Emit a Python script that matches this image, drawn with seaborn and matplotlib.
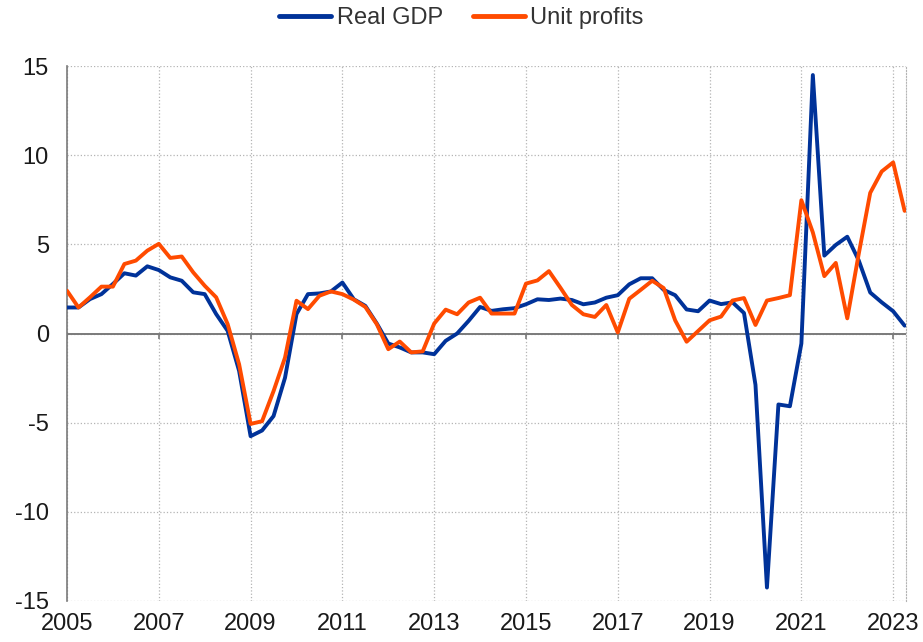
import numpy as np
import pandas as pd
import seaborn as sns
import matplotlib
matplotlib.use("Agg")
import matplotlib.pyplot as plt

# quarterly y-o-y growth, 2005Q1 - 2023Q2
quarters = pd.period_range("2005Q1", "2023Q2", freq="Q")

real_gdp = [
    1.46, 1.46, 1.93, 2.21,
    2.78, 3.38, 3.25, 3.77,
    3.56, 3.15, 2.96, 2.31,
    2.21, 1.09, 0.15, -2.10,
    -5.76, -5.44, -4.63, -2.48,
    1.09, 2.21, 2.25, 2.36,
    2.86, 1.92, 1.55, 0.56,
    -0.56, -0.78, -1.06, -1.06,
    -1.16, -0.41, 0.00, 0.71,
    1.49, 1.27, 1.36, 1.42,
    1.64, 1.92, 1.88, 1.96,
    1.88, 1.64, 1.74, 2.01,
    2.15, 2.76, 3.10, 3.10,
    2.45, 2.15, 1.35, 1.25,
    1.85, 1.65, 1.75, 1.15,
    -2.88, -14.25, -3.98, -4.08,
    -0.56, 14.50, 4.37, 4.97,
    5.43, 4.10, 2.30, 1.75,
    1.25, 0.44,
]

unit_profits = [
    2.40, 1.46, 2.03, 2.63,
    2.63, 3.90, 4.09, 4.65,
    5.03, 4.24, 4.32, 3.43,
    2.68, 2.03, 0.53, -1.73,
    -5.07, -4.92, -3.23, -1.35,
    1.84, 1.37, 2.12, 2.36,
    2.21, 1.90, 1.49, 0.52,
    -0.88, -0.45, -1.06, -1.00,
    0.56, 1.34, 1.08, 1.74,
    2.01, 1.12, 1.12, 1.12,
    2.80, 2.98, 3.50, 2.57,
    1.60, 1.08, 0.93, 1.60,
    0.06, 1.95, 2.45, 2.96,
    2.55, 0.74, -0.46, 0.14,
    0.74, 0.95, 1.85, 1.99,
    0.48, 1.85, 1.99, 2.15,
    7.48, 5.67, 3.22, 3.96,
    0.85, 4.47, 7.89, 9.09,
    9.60, 6.88,
]

series_names = ["Real GDP", "Unit profits"]
series_colors = ["#003299", "#ff4b00"]
year_ticks = list(range(2005, 2024, 2))
y_ticks = [-15, -10, -5, 0, 5, 10, 15]

t = np.array([q.year + (q.quarter - 1) / 4 for q in quarters])
df = pd.DataFrame({"t": t, "Real GDP": real_gdp, "Unit profits": unit_profits})
long = df.melt(id_vars="t", var_name="series", value_name="value")

sns.set_style("white")
plt.rcParams["font.family"] = ["Liberation Sans", "DejaVu Sans"]
plt.rcParams["axes.unicode_minus"] = False

fig = plt.figure(figsize=(9.23, 6.42), dpi=100)
ax = fig.add_axes([0.0726, 0.064, 0.909, 0.833])

grid_col = "#b4b4b4"
axis_col = "#7a7a7a"

ax.set_xlim(2005, 2023.28)
ax.set_ylim(-15, 15)
ax.grid(True, linestyle=":", color=grid_col, linewidth=0.9)
ax.set_axisbelow(True)

# zero line with small downward ticks at the year grid
ax.axhline(0, color=axis_col, linewidth=1.4, zorder=1.5)
ax.vlines(year_ticks, -0.3, 0, color=axis_col, linewidth=1.2, zorder=1.5)

sns.lineplot(data=long, x="t", y="value", hue="series", hue_order=series_names,
             palette=series_colors, linewidth=2.8, ax=ax, legend=False, zorder=3)

ax.set_xticks(year_ticks)
ax.set_xticklabels([str(y) for y in year_ticks])
ax.set_yticks(y_ticks)
ax.set_yticklabels([str(v) for v in y_ticks])
ax.set_xlabel("")
ax.set_ylabel("")

for side in ["top", "bottom"]:
    ax.spines[side].set_visible(False)
ax.spines["right"].set_visible(True)
ax.spines["right"].set_linestyle(":")
ax.spines["right"].set_color(grid_col)
ax.spines["left"].set_color(axis_col)
ax.spines["left"].set_linewidth(1.2)

ax.tick_params(axis="x", length=0, pad=9, labelsize=17, labelcolor="#1a1a1a")
ax.tick_params(axis="y", length=5, width=1.2, color=axis_col, pad=8,
               labelsize=17, labelcolor="#1a1a1a", direction="out")

handles = [plt.Line2D([], [], color=c, linewidth=3.5) for c in series_colors]
fig.legend(handles, series_names, loc="center", bbox_to_anchor=(0.5, 0.972),
           ncol=2, frameon=False, fontsize=17, handlelength=2.2,
           handletextpad=0.25, columnspacing=1.25, labelcolor="#333333")

fig.savefig("out.png", dpi=100)
